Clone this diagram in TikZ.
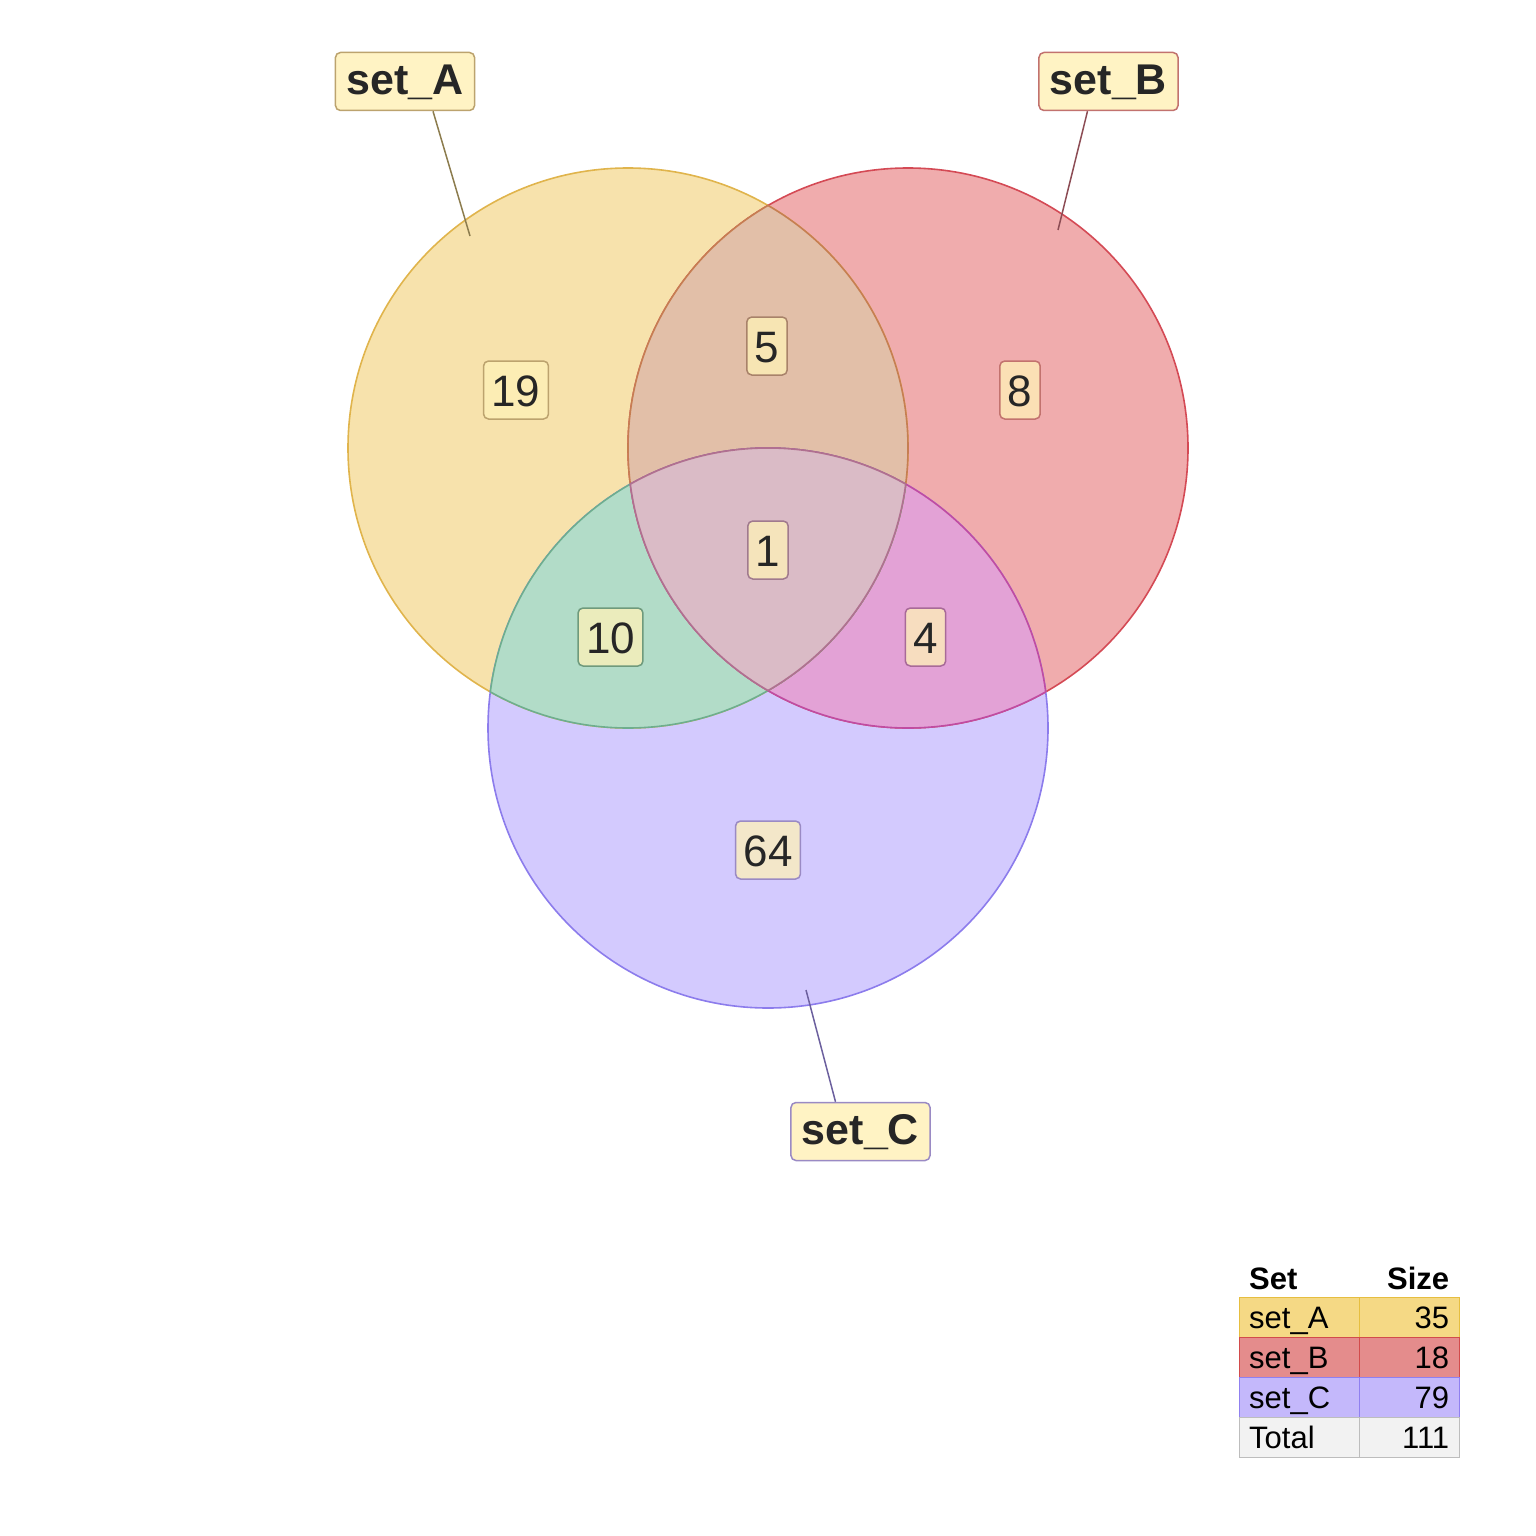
\documentclass[tikz,border=0pt]{standalone}
\usepackage{fontspec}
\setmainfont{Liberation Sans}
\usepackage{tikz}
\usetikzlibrary{matrix}

\definecolor{ink}{HTML}{262626}
\definecolor{fillA}{HTML}{F7E2AC}
\definecolor{fillB}{HTML}{F0ACAD}
\definecolor{fillC}{HTML}{D3CAFE}
\definecolor{fillAB}{HTML}{E2BFA8}
\definecolor{fillAC}{HTML}{B2DCC8}
\definecolor{fillBC}{HTML}{E3A2D6}
\definecolor{fillABC}{HTML}{DABBC6}
\definecolor{edgeA}{HTML}{E0B44C}
\definecolor{edgeB}{HTML}{D44A55}
\definecolor{edgeC}{HTML}{8C7CEC}
\definecolor{edgeAB}{HTML}{C67E52}
\definecolor{edgeAC}{HTML}{6EAE8E}
\definecolor{edgeBC}{HTML}{C04CA2}
\definecolor{edgeABC}{HTML}{B07090}
\definecolor{bdA}{HTML}{BCA36E}
\definecolor{bdB}{HTML}{C2726E}
\definecolor{bdC}{HTML}{9A8AC4}
\definecolor{bdAB}{HTML}{A8826A}
\definecolor{bdAC}{HTML}{6F9A7C}
\definecolor{bdBC}{HTML}{A86A98}
\definecolor{bdABC}{HTML}{A07A8E}
\definecolor{boxfill}{HTML}{FFF2B8}
\definecolor{labfill}{HTML}{FFF3C4}
\definecolor{lineA}{HTML}{8C7C4E}
\definecolor{lineB}{HTML}{8C4C54}
\definecolor{lineC}{HTML}{6C609E}
\definecolor{tabA}{HTML}{F5D985}
\definecolor{tabAedge}{HTML}{E6BE40}
\definecolor{tabB}{HTML}{E48C8C}
\definecolor{tabBedge}{HTML}{D24B4B}
\definecolor{tabC}{HTML}{C4B8FB}
\definecolor{tabCedge}{HTML}{9080F0}
\definecolor{tabT}{HTML}{F2F2F2}
\definecolor{tabTedge}{HTML}{BDBDBD}

\begin{document}
\begin{tikzpicture}[x=1pt, y=-1pt,
  ring/.style={line width=1.6pt},
  cnt/.style={rounded corners=5pt, fill=boxfill, fill opacity=.75, text opacity=1, text=ink,
    font=\fontsize{44}{50}\selectfont, text height=32pt, text depth=0pt,
    inner xsep=8pt, inner ysep=13pt, line width=1.5pt},
  setlab/.style={rounded corners=5pt, fill=labfill, text=ink,
    font=\fontsize{43}{50}\selectfont\bfseries, text height=30pt, text depth=4pt,
    inner xsep=11pt, inner ysep=12pt, line width=1.5pt},
  pin/.style={line width=1.5pt}]
  \useasboundingbox (0,0) rectangle (1536,1536);
  \def\vennr{280pt}
  \coordinate (cA) at (628,448);
  \coordinate (cB) at (908,448);
  \coordinate (cC) at (768,728);

  \fill[fillA] (cA) circle [radius=\vennr];
  \fill[fillB] (cB) circle [radius=\vennr];
  \fill[fillC] (cC) circle [radius=\vennr];
  \draw[ring, edgeA] (cA) circle [radius=\vennr];
  \draw[ring, edgeB] (cB) circle [radius=\vennr];
  \draw[ring, edgeC] (cC) circle [radius=\vennr];

  \foreach \p/\q/\col in {cA/cB/AB, cA/cC/AC, cB/cC/BC}{
    \begin{scope}
      \clip (\p) circle [radius=\vennr];
      \fill[fill\col] (\q) circle [radius=\vennr];
    \end{scope}
  }
  \foreach \p/\q/\col in {cA/cB/AB, cB/cA/AB, cA/cC/AC, cC/cA/AC, cB/cC/BC, cC/cB/BC}{
    \begin{scope}
      \clip (\p) circle [radius=\vennr];
      \draw[ring, edge\col] (\q) circle [radius=\vennr];
    \end{scope}
  }
  \begin{scope}
    \clip (cA) circle [radius=\vennr];
    \clip (cB) circle [radius=\vennr];
    \fill[fillABC] (cC) circle [radius=\vennr];
  \end{scope}
  \foreach \p/\q/\r in {cA/cB/cC, cB/cC/cA, cC/cA/cB}{
    \begin{scope}
      \clip (\p) circle [radius=\vennr];
      \clip (\q) circle [radius=\vennr];
      \draw[ring, edgeABC] (\r) circle [radius=\vennr];
    \end{scope}
  }

  \node[cnt, draw=bdA] (onlyA) at (516,390) {19};
  \node[cnt, draw=bdAB] (AB) at (767,346) {5};
  \node[cnt, draw=bdB] (onlyB) at (1020,390) {8};
  \node[cnt, draw=bdABC] (ABC) at (768,550) {1};
  \node[cnt, draw=bdAC] (AC) at (610.5,637) {10};
  \node[cnt, draw=bdBC] (BC) at (925.5,637) {4};
  \node[cnt, draw=bdC] (onlyC) at (768,850) {64};

  \node[setlab, draw=bdA] (labA) at (405,81.5) {set\_A};
  \node[setlab, draw=bdB] (labB) at (1108.5,81.5) {set\_B};
  \node[setlab, draw=bdC] (labC) at (860.5,1131.5) {set\_C};
  \coordinate (tipA) at (470,236);
  \coordinate (tipB) at (1058,230);
  \coordinate (tipC) at (806,990);
  \draw[pin, lineA] ([xshift=28pt]labA.south) -- (tipA);
  \draw[pin, lineB] ([xshift=-21pt]labB.south) -- (tipB);
  \draw[pin, lineC] ([xshift=-25pt]labC.north) -- (tipC);

  \matrix (tab) [matrix of nodes, anchor=north west, inner sep=0pt, row sep=-1.2pt, column sep=-1.2pt,
    nodes={minimum height=40pt, outer sep=0pt, inner xsep=10pt, inner ysep=0pt,
      text height=22pt, text depth=0pt, line width=1.2pt, font=\fontsize{31}{36}\selectfont},
    column 1/.style={nodes={text width=100pt, align=left}},
    column 2/.style={nodes={text width=80pt, align=right}},
    row 1/.style={nodes={font=\fontsize{31}{36}\selectfont\bfseries}},
    row 2/.style={nodes={fill=tabA, draw=tabAedge}},
    row 3/.style={nodes={fill=tabB, draw=tabBedge}},
    row 4/.style={nodes={fill=tabC, draw=tabCedge}},
    row 5/.style={nodes={fill=tabT, draw=tabTedge}}]
    at (1238.4,1258) {
    Set & Size \\
    set\_A & 35 \\
    set\_B & 18 \\
    set\_C & 79 \\
    Total & 111 \\
  };
\end{tikzpicture}
\end{document}
